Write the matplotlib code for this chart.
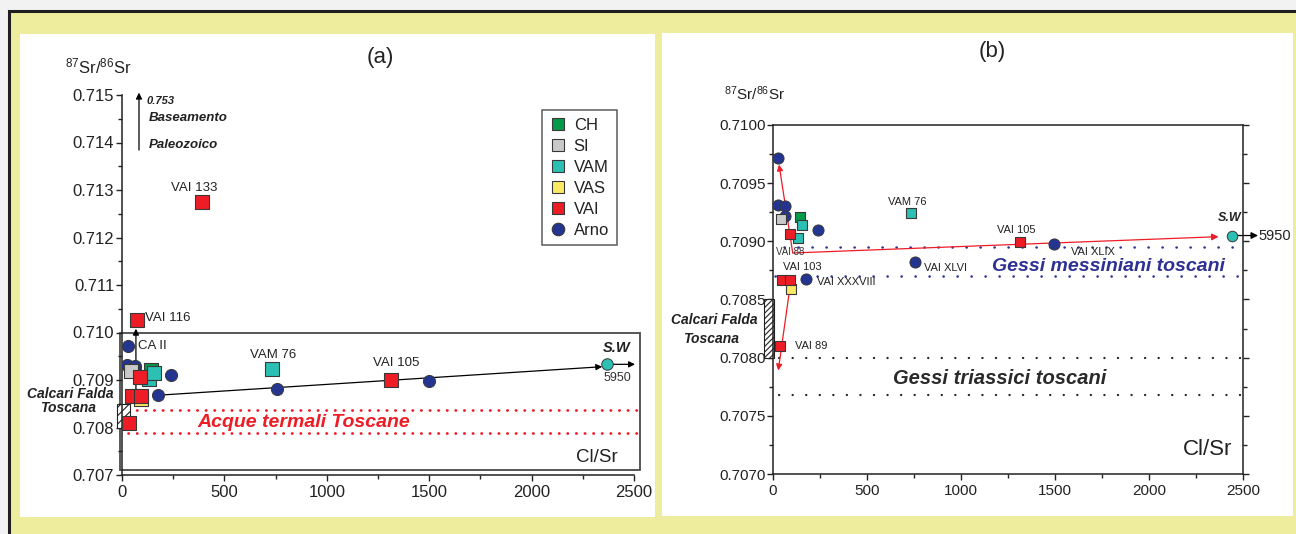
import matplotlib
matplotlib.use('Agg')
import matplotlib.pyplot as plt
from matplotlib.patches import Rectangle
from matplotlib.lines import Line2D
from matplotlib.ticker import MultipleLocator, FormatStrFormatter

plt.rcParams['font.family'] = ['Liberation Sans', 'DejaVu Sans']
plt.rcParams['mathtext.fontset'] = 'custom'
plt.rcParams['mathtext.rm'] = 'Liberation Sans'
plt.rcParams['mathtext.default'] = 'regular'
plt.rcParams['hatch.linewidth'] = 0.8

# samples: Cl/Sr (x) and 87Sr/86Sr (y)
ch_x = [144]
ch_y = [0.70921]
si_x = [44]
si_y = [0.70919]
vam_x = [132, 154, 732]
vam_y = [0.70903, 0.70914, 0.70924]
vas_x = [95]
vas_y = [0.70859]
vai_x = [392, 72, 90, 1314, 47, 91, 36]
vai_y = [0.71274, 0.71026, 0.70906, 0.70899, 0.70867, 0.70867, 0.70810]
arno_x = [28, 25, 65, 63, 239, 178, 757, 1497]
arno_y = [0.70972, 0.70931, 0.70930, 0.70922, 0.70910, 0.70868, 0.70882, 0.70898]

# sea water, plotted at a different spot in each panel
sw_a = (2368, 0.70933)
sw_b = (2440, 0.70905)

# reference ranges
calcari = (0.7080, 0.7085)
acque_termali = (0.70789, 0.70837)
gessi_mess = (0.70870, 0.70895)
gessi_trias = (0.70768, 0.70800)

groups = ['CH', 'SI', 'VAM', 'VAS', 'VAI', 'Arno']
colors = {'CH': '#009a4a', 'SI': '#c9c9c9', 'VAM': '#2cbfb3',
          'VAS': '#fbe964', 'VAI': '#ee1c25', 'Arno': '#233591'}
EDGE = '#383838'
RED = '#ee1c25'
NAVY = '#2e3192'

W, H = 1296, 534
fig = plt.figure(figsize=(W / 100, H / 100), dpi=100, facecolor='#f2f2f2')

# yellow board with dark frame, then two white panels
fig.add_artist(Rectangle((8.5 / W, -0.05), 1.1, 1.05 - 11 / H,
                         transform=fig.transFigure, facecolor='#eded9d',
                         edgecolor='#1e1e1e', lw=2.2, zorder=-3))
fig.add_artist(Rectangle((20 / W, 1 - 517 / H), 635 / W, 483 / H,
                         transform=fig.transFigure, facecolor='white',
                         edgecolor='none', zorder=-2))
fig.add_artist(Rectangle((662 / W, 1 - 516 / H), 631 / W, 483 / H,
                         transform=fig.transFigure, facecolor='white',
                         edgecolor='none', zorder=-2))

ax_a = fig.add_axes([122 / W, 1 - 475 / H, 512 / W, 380 / H])
ax_b = fig.add_axes([773 / W, 1 - 474 / H, 470 / W, 349 / H])


def draw_samples(ax, sq, circ, sw):
    ax.scatter(arno_x, arno_y, s=circ, marker='o', color=colors['Arno'],
               edgecolors=EDGE, linewidths=0.7, zorder=3)
    data = [('CH', ch_x, ch_y), ('SI', si_x, si_y), ('VAM', vam_x, vam_y),
            ('VAS', vas_x, vas_y), ('VAI', vai_x, vai_y)]
    for name, xs, ys in data:
        ax.scatter(xs, ys, s=sq, marker='s', color=colors[name],
                   edgecolors=EDGE, linewidths=0.8, zorder=4)
    ax.scatter([sw[0]], [sw[1]], s=circ * 0.9, marker='o', color=colors['VAM'],
               edgecolors=EDGE, linewidths=0.7, zorder=4, clip_on=False)


def arrow(ax, start, tip, color='black', lw=0.9, ms=9):
    ax.annotate('', xy=tip, xytext=start, annotation_clip=False,
                arrowprops=dict(arrowstyle='-|>', color=color, lw=lw,
                                mutation_scale=ms, shrinkA=0, shrinkB=0),
                zorder=2)


def style_axes(ax, ymajor, fmt, labelsize):
    ax.set_xlim(0, 2500)
    ax.xaxis.set_major_locator(MultipleLocator(500))
    ax.xaxis.set_minor_locator(MultipleLocator(250))
    ax.yaxis.set_major_locator(MultipleLocator(ymajor))
    ax.yaxis.set_minor_locator(MultipleLocator(ymajor / 2))
    ax.yaxis.set_major_formatter(FormatStrFormatter(fmt))
    ax.tick_params(which='both', direction='out', width=1.0, color='#222222',
                   labelsize=labelsize, labelcolor='#222222')
    ax.tick_params(which='major', length=4)
    ax.tick_params(which='minor', length=3)
    ax.tick_params(axis='y', pad=1.5)
    ax.tick_params(axis='x', pad=3)
    for sp in ax.spines.values():
        sp.set_linewidth(1.1)
        sp.set_color('#222222')


# ---------------- panel (a) ----------------
ax = ax_a
ax.set_facecolor('none')
style_axes(ax, 0.001, '%.3f', 12)
ax.set_ylim(0.707, 0.715)
ax.spines['top'].set_visible(False)
ax.spines['right'].set_visible(False)

ax.add_patch(Rectangle((-8, 0.70710), 2538, 0.00290, fill=False,
                       edgecolor='#4a4a4a', lw=1.3, clip_on=False, zorder=1))
ax.add_patch(Rectangle((-24, calcari[0]), 63, calcari[1] - calcari[0],
                       facecolor='white', edgecolor='#222222', hatch='////',
                       lw=0.8, clip_on=False, zorder=2))
for y in acque_termali:
    ax.plot([30, 2530], [y, y], color=RED, lw=2.0, linestyle=(0, (0.1, 3.0)),
            dash_capstyle='round', clip_on=False, zorder=1)

arrow(ax, (arno_x[5], arno_y[5]), (2345, 0.70928))
arrow(ax, sw_a, (2505, sw_a[1]))
arrow(ax, (68, 0.70870), (68, 0.71008))
arrow(ax, (83, 0.71384), (83, 0.71505))
draw_samples(ax, 88, 76, sw_a)

ax.text(122, 0.71488, '0.753', fontsize=8, style='italic', weight='bold',
        color='#222222', va='center')
ax.text(130, 0.71452, 'Baseamento', fontsize=9.5, style='italic',
        weight='bold', color='#222222', va='center')
ax.text(130, 0.71395, 'Paleozoico', fontsize=9.5, style='italic',
        weight='bold', color='#222222', va='center')
lab = dict(fontsize=9.5, color='#222222', va='center')
ax.text(351, 0.71304, 'VAI 133', ha='center', **lab)
ax.text(112, 0.71030, 'VAI 116', ha='left', **lab)
ax.text(78, 0.70972, 'CA II', ha='left', **lab)
ax.text(737, 0.70953, 'VAM 76', ha='center', **lab)
ax.text(1338, 0.70936, 'VAI 105', ha='center', **lab)
ax.text(2485, 0.70967, 'S.W', fontsize=10.5, style='italic', weight='bold',
        color='#222222', ha='right', va='center')
ax.text(2420, 0.70904, '5950', fontsize=9, color='#333333', ha='center',
        va='center')
ax.text(-250, 0.70871, 'Calcari Falda', fontsize=10, style='italic',
        weight='bold', color='#222222', ha='center', va='center')
ax.text(-265, 0.70840, 'Toscana', fontsize=10, style='italic',
        weight='bold', color='#222222', ha='center', va='center')
ax.text(890, 0.70811, 'Acque termali Toscane', fontsize=14, style='italic',
        weight='bold', color=RED, ha='center', va='center')
ax.text(2320, 0.70736, 'Cl/Sr', fontsize=13.5, color='#222222',
        ha='center', va='center')

handles = []
for g in groups:
    handles.append(Line2D([], [], linestyle='none',
                          marker='o' if g == 'Arno' else 's',
                          markersize=9, markerfacecolor=colors[g],
                          markeredgecolor=EDGE, markeredgewidth=0.8))
leg = ax.legend(handles, groups, loc='upper left',
                bbox_to_anchor=(0.8203, 0.9605), borderaxespad=0,
                fontsize=12, frameon=True, fancybox=False,
                edgecolor='#333333', borderpad=0.45, handlelength=1.0,
                handletextpad=0.45, labelspacing=0.36)
leg.get_frame().set_linewidth(1.1)
for t in leg.get_texts():
    t.set_color('#222222')

fig.text(380 / W, 1 - 57 / H, '(a)', fontsize=16, color='#222222',
         ha='center', va='center')
fig.text(98 / W, 1 - 66 / H, r'$^{87}$Sr/$^{86}$Sr', fontsize=12,
         color='#222222', ha='center', va='center')

# ---------------- panel (b) ----------------
ax = ax_b
style_axes(ax, 0.0005, '%.4f', 11)
ax.set_ylim(0.7070, 0.7100)
ax.tick_params(axis='y', which='both', right=True)
ax.tick_params(axis='y', pad=1)

ax.add_patch(Rectangle((-48, calcari[0]), 53, calcari[1] - calcari[0],
                       facecolor='white', edgecolor='#222222', hatch='//////',
                       lw=0.8, clip_on=False, zorder=2))
ax.plot([60, 2480], [gessi_mess[1]] * 2, color=NAVY, lw=1.8,
        linestyle=(0, (0.1, 5.5)), dash_capstyle='round', zorder=1)
ax.plot([10, 2520], [gessi_mess[0]] * 2, color=NAVY, lw=1.8,
        linestyle=(0, (0.1, 5.5)), dash_capstyle='round', clip_on=False,
        zorder=1)
for y in gessi_trias:
    ax.plot([30, 2500], [y, y], color='#222222', lw=1.6,
            linestyle=(0, (0.1, 6.0)), dash_capstyle='round', zorder=1)

arrow(ax, (105, 0.70890), (32, 0.70966), color=RED, lw=0.9, ms=9)
arrow(ax, (105, 0.70890), (2370, 0.70904), color=RED, lw=0.9, ms=10)
arrow(ax, (94, 0.70865), (28, 0.70789), color=RED, lw=0.9, ms=9)
arrow(ax, sw_b, (2580, sw_b[1]), ms=10)
draw_samples(ax, 58, 64, sw_b)

lab = dict(fontsize=8, color='#222222', va='center')
ax.text(715, 0.70934, 'VAM 76', ha='center', **lab)
ax.text(1293, 0.70910, 'VAI 105', ha='center', **lab)
ax.text(90, 0.70891, 'VAI 88', ha='center', fontsize=7, color='#333333',
        va='center')
ax.text(158, 0.70878, 'VAI 103', ha='center', **lab)
ax.text(803, 0.70877, 'VAI XLVI', ha='left', **lab)
ax.text(234, 0.70865, 'VAI XXXVIII', ha='left', **lab)
ax.text(1585, 0.70891, 'VAI XLIX', ha='left', **lab)
ax.text(117, 0.70810, 'VAI 89', ha='left', **lab)
ax.text(2431, 0.70920, 'S.W', fontsize=9, style='italic', weight='bold',
        color='#222222', ha='center', va='center')
ax.text(2582, 0.70905, '5950', fontsize=10.5, color='#222222', ha='left',
        va='center')
ax.text(-314, 0.70832, 'Calcari Falda', fontsize=10, style='italic',
        weight='bold', color='#222222', ha='center', va='center')
ax.text(-330, 0.70816, 'Toscana', fontsize=10, style='italic',
        weight='bold', color='#222222', ha='center', va='center')
ax.text(1782, 0.70878, 'Gessi messiniani toscani', fontsize=14,
        style='italic', weight='bold', color=NAVY, ha='center', va='center')
ax.text(1206, 0.70782, 'Gessi triassici toscani', fontsize=14.5,
        style='italic', weight='bold', color='#2a2a2a', ha='center',
        va='center')
ax.text(2314, 0.70721, 'Cl/Sr', fontsize=16, color='#222222', ha='center',
        va='center')

fig.text(992 / W, 1 - 51 / H, '(b)', fontsize=16, color='#222222',
         ha='center', va='center')
fig.text(755 / W, 1 - 94 / H, r'$^{87}$Sr/$^{86}$Sr', fontsize=11,
         color='#222222', ha='center', va='center')

plt.savefig('out.png', dpi=100, facecolor=fig.get_facecolor())
